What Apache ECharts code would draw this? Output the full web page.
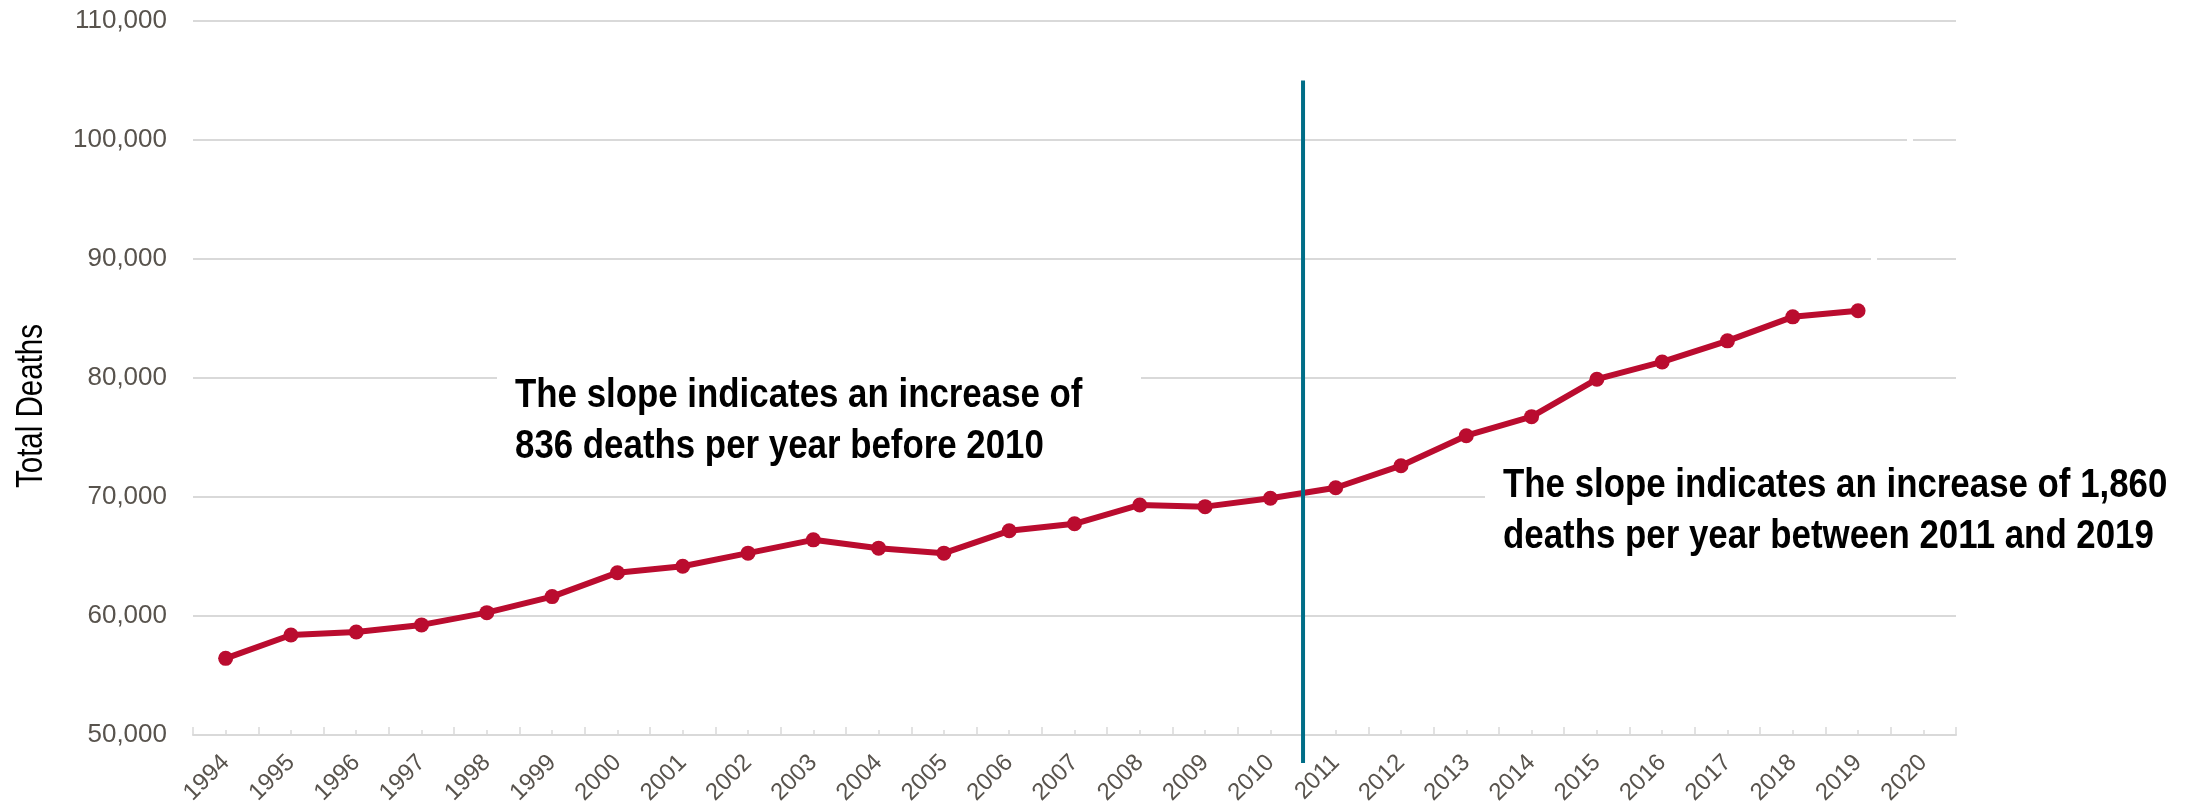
<!DOCTYPE html>
<html>
<head>
<meta charset="utf-8">
<title>Total Deaths per Year</title>
<script src="https://cdn.jsdelivr.net/npm/echarts@6/dist/echarts.min.js"></script>
<style>
  html, body { margin: 0; padding: 0; background: #fff; }
  #chart { width: 2196px; height: 809px; }
</style>
</head>
<body>
<div id="chart"></div>
<script>
// data
const years = ['1994', '1995', '1996', '1997', '1998', '1999', '2000', '2001', '2002',
  '2003', '2004', '2005', '2006', '2007', '2008', '2009', '2010', '2011', '2012',
  '2013', '2014', '2015', '2016', '2017', '2018', '2019', '2020'];
const deaths = [56440, 58400, 58650, 59250, 60280, 61630, 63640, 64180, 65280,
  66400, 65700, 65280, 67160, 67750, 69330, 69190, 69890, 70780, 72630,
  75150, 76750, 79900, 81350, 83120, 85140, 85650];
const yMin = 50000;
const yMax = 110000;
const yStep = 10000;
const breakYear = '2010';   // divider drawn after this year
const noteBefore = ['The slope indicates an increase of', '836 deaths per year before 2010'];
const noteAfter = ['The slope indicates an increase of 1,860', 'deaths per year between 2011 and 2019'];

const FONT = "'Liberation Sans', Arial, sans-serif";
const GREY = '#d9d9d9';
const LABEL = '#58534d';
const RED = '#ba0c2f';
const TEAL = '#006d87';
const NARROW_SCALE = 0.85;  // reference uses a narrow face

const chart = echarts.init(document.getElementById('chart'));

const option = {
  animation: false,
  backgroundColor: '#fff',
  grid: { left: 193, right: 240, top: 21, bottom: 74 },
  xAxis: [
    {
      type: 'category',
      data: years,
      boundaryGap: true,
      axisLine: { lineStyle: { color: GREY, width: 2 } },
      axisTick: { show: true, inside: true, length: 8, interval: 0, lineStyle: { color: GREY, width: 1.5 } },
      axisLabel: { interval: 0, rotate: 45, fontSize: 24, color: LABEL, fontFamily: FONT, margin: 24 },
      splitLine: { show: false }
    },
    {
      // short ticks under each point
      type: 'category',
      data: years,
      position: 'bottom',
      boundaryGap: true,
      axisLine: { show: false },
      axisTick: { show: true, inside: true, alignWithLabel: true, length: 5, interval: 0, lineStyle: { color: GREY, width: 1.5 } },
      axisLabel: { show: false },
      splitLine: { show: false }
    }
  ],
  yAxis: {
    type: 'value',
    min: yMin,
    max: yMax,
    interval: yStep,
    axisLine: { show: false },
    axisTick: { show: false },
    splitLine: { lineStyle: { color: GREY, width: 2 } },
    axisLabel: {
      formatter: v => v.toLocaleString('en-US'),
      fontSize: 26, color: LABEL, fontFamily: FONT, margin: 26
    }
  },
  series: [{
    name: 'Total Deaths',
    type: 'line',
    data: deaths,
    symbol: 'circle',
    symbolSize: 15,
    lineStyle: { color: RED, width: 6 },
    itemStyle: { color: RED }
  }]
};

chart.setOption(option);

// annotations placed after the axes exist
const xA = chart.convertToPixel({ xAxisIndex: 0 }, breakYear);
const xB = chart.convertToPixel({ xAxisIndex: 0 }, years[years.indexOf(breakYear) + 1]);
const divX = (xA + xB) / 2;
const divTop = chart.convertToPixel({ yAxisIndex: 0 }, 105000);
const divBottom = chart.convertToPixel({ yAxisIndex: 0 }, 47650);
const y90 = chart.convertToPixel({ yAxisIndex: 0 }, 90000);
const y100 = chart.convertToPixel({ yAxisIndex: 0 }, 100000);

const noteFont = { fontSize: 41, fontWeight: 'bold', fontFamily: FONT, fill: '#000', lineHeight: 51, verticalAlign: 'top' };

chart.setOption({
  graphic: [
    { type: 'rect', z: 50, shape: { x: 497, y: 360, width: 644, height: 122 }, style: { fill: '#fff' } },
    { type: 'text', z: 60, x: 515, y: 370, scaleX: NARROW_SCALE, style: Object.assign({ text: noteBefore.join('\n') }, noteFont) },
    { type: 'rect', z: 50, shape: { x: 1485, y: 445, width: 711, height: 130 }, style: { fill: '#fff' } },
    { type: 'text', z: 60, x: 1503, y: 460, scaleX: NARROW_SCALE, style: Object.assign({ text: noteAfter.join('\n') }, noteFont) },
    { type: 'rect', z: 50, shape: { x: 1871, y: y90 - 3, width: 6, height: 6 }, style: { fill: '#fff' } },
    { type: 'rect', z: 50, shape: { x: 1907, y: y100 - 3, width: 6, height: 6 }, style: { fill: '#fff' } },
    { type: 'line', z: 100, shape: { x1: divX, y1: divTop, x2: divX, y2: divBottom }, style: { stroke: TEAL, lineWidth: 4 } },
    {
      type: 'text', z: 60, x: 32, y: 406, rotation: Math.PI / 2, scaleX: 0.82,
      style: { text: 'Total Deaths', fontSize: 36, fontFamily: FONT, fill: '#000', align: 'center', verticalAlign: 'middle' }
    }
  ]
});
</script>
</body>
</html>
